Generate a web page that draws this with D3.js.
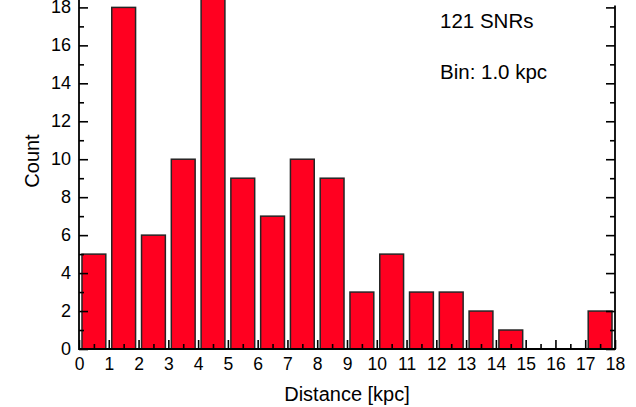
<!DOCTYPE html>
<html>
<head>
<meta charset="utf-8">
<script src="https://cdn.jsdelivr.net/npm/d3@7"></script>
<style>
  html, body { margin: 0; padding: 0; background: #fff; }
  svg { display: block; font-family: "Liberation Sans", Arial, Helvetica, sans-serif; }
</style>
</head>
<body>
<svg id="chart" width="636" height="407"></svg>
<script>
// Distance histogram of supernova remnants, 1 kpc bins
const binStarts = [0, 1, 2, 3, 4, 5, 6, 7, 8, 9, 10, 11, 12, 13, 14, 15, 16, 17];
const counts    = [5, 18, 6, 10, 28, 9, 7, 10, 9, 3, 5, 3, 3, 2, 1, 0, 0, 2];
const binWidth = 1.0;
const xTickValues = d3.range(0, 19, 1);
const yTickValues = [0, 2, 4, 6, 8, 10, 12, 14, 16, 18];
const notes = ["121 SNRs", "Bin: 1.0 kpc"];

const svg = d3.select("#chart");
const left = 79, right = 615, bottom = 349, top18 = 7.4;

const x = d3.scaleLinear().domain([0, 18]).range([left, right]);
const y = d3.scaleLinear().domain([0, 18]).range([bottom, top18]);

// bars: 80% of the bin width, centred in the bin
svg.append("g")
  .selectAll("rect")
  .data(binStarts.map((s, i) => ({ s, c: counts[i] })).filter(d => d.c > 0))
  .join("rect")
  .attr("x", d => x(d.s + 0.1 * binWidth))
  .attr("width", d => x(d.s + 0.9 * binWidth) - x(d.s + 0.1 * binWidth))
  .attr("y", d => y(d.c))
  .attr("height", d => y(0) - y(d.c))
  .attr("fill", "#ff0020")
  .attr("stroke", "#262626")
  .attr("stroke-width", 1.5);

const tickStyle = g => {
  g.select(".domain").remove();
  g.selectAll(".tick line").attr("stroke", "#000").attr("stroke-width", 1.6);
};

// bottom axis: major ticks at integers, minor at half-integers, all pointing inward
svg.append("g").attr("transform", `translate(0,${bottom})`)
  .call(d3.axisBottom(x).tickValues(xTickValues.map(v => v + 0.5).filter(v => v < 18))
    .tickSize(-5).tickFormat(""))
  .call(tickStyle);
const xAxis = svg.append("g").attr("transform", `translate(0,${bottom})`)
  .call(d3.axisBottom(x).tickValues(xTickValues).tickSize(-9).tickPadding(9)
    .tickFormat(d3.format("d")))
  .call(tickStyle);
xAxis.selectAll("text").attr("font-size", 17.5).attr("fill", "#000")
  .attr("font-family", "Liberation Sans, Arial, sans-serif");

// left axis with inward ticks
const yMinor = yTickValues.slice(0, -1).map(v => v + 1);
svg.append("g").attr("transform", `translate(${left},0)`)
  .call(d3.axisLeft(y).tickValues(yMinor).tickSize(-5).tickFormat(""))
  .call(tickStyle);
const yAxis = svg.append("g").attr("transform", `translate(${left},0)`)
  .call(d3.axisLeft(y).tickValues(yTickValues).tickSize(-9).tickPadding(8)
    .tickFormat(d3.format("d")))
  .call(tickStyle);
yAxis.selectAll("text").attr("font-size", 18).attr("fill", "#000")
  .attr("dy", "0.3em")
  .attr("font-family", "Liberation Sans, Arial, sans-serif");

// right axis, ticks only
svg.append("g").attr("transform", `translate(${right},0)`)
  .call(d3.axisRight(y).tickValues(yMinor).tickSize(-5).tickFormat(""))
  .call(tickStyle);
svg.append("g").attr("transform", `translate(${right},0)`)
  .call(d3.axisRight(y).tickValues(yTickValues).tickSize(-9).tickFormat(""))
  .call(tickStyle);

// frame lines
const frame = svg.append("g").attr("stroke", "#000").attr("stroke-width", 1.8);
frame.append("line").attr("x1", left).attr("x2", left).attr("y1", y(0) + 0.9).attr("y2", 0);
frame.append("line").attr("x1", right).attr("x2", right).attr("y1", y(0) + 0.9).attr("y2", y(18) - 2);
frame.append("line").attr("x1", left).attr("x2", right).attr("y1", y(0)).attr("y2", y(0));

// axis titles
svg.append("text")
  .attr("x", (left + right) / 2).attr("y", 401)
  .attr("text-anchor", "middle").attr("font-size", 20)
  .text("Distance [kpc]");
svg.append("text")
  .attr("transform", "translate(39,161) rotate(-90)")
  .attr("text-anchor", "middle").attr("font-size", 20)
  .text("Count");

// annotations
svg.append("g").selectAll("text").data(notes).join("text")
  .attr("x", 440).attr("y", (d, i) => 28 + i * 51)
  .attr("font-size", 20.5)
  .text(d => d);
</script>
</body>
</html>
